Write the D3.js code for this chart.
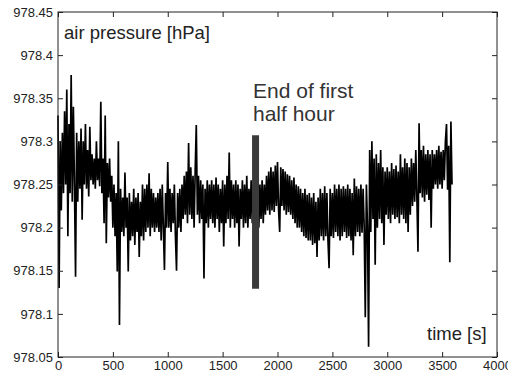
<!DOCTYPE html>
<html>
<head>
<meta charset="utf-8">
<script src="https://cdn.jsdelivr.net/npm/d3@7"></script>
<style>
  html, body { margin: 0; padding: 0; background: #fff; }
  svg { display: block; }
  text { font-family: Arial, "Liberation Sans", sans-serif; }
</style>
</head>
<body>
<svg id="chart" width="508" height="376"></svg>
<script>
// ---- data ----
const xTicks = [0, 500, 1000, 1500, 2000, 2500, 3000, 3500, 4000];
const yTicks = [978.05, 978.1, 978.15, 978.2, 978.25, 978.3, 978.35, 978.4, 978.45];
const yTickLabels = ["978.05", "978.1", "978.15", "978.2", "978.25", "978.3", "978.35", "978.4", "978.45"];
const sampleStep = 10; // seconds between samples
const pressure = [
978.330,978.130,978.300,978.220,978.310,978.240,978.335,978.250,978.360,978.190,
978.320,978.240,978.377,978.230,978.340,978.250,978.143,978.310,978.230,978.300,
978.245,978.315,978.209,978.300,978.250,978.320,978.245,978.290,978.236,978.317,
978.255,978.285,978.250,978.280,978.245,978.300,978.255,978.280,978.248,978.346,
978.240,978.280,978.205,978.330,978.182,978.275,978.235,978.280,978.230,978.260,
978.200,978.250,978.190,978.240,978.149,978.300,978.087,978.245,978.195,978.235,
978.190,978.264,978.200,978.235,978.149,978.240,978.185,978.230,978.190,978.245,
978.180,978.235,978.195,978.240,978.166,978.230,978.190,978.250,978.185,978.245,
978.195,978.250,978.200,978.263,978.190,978.245,978.200,978.240,978.195,978.235,
978.200,978.240,978.195,978.245,978.185,978.250,978.200,978.151,978.240,978.200,
978.276,978.200,978.245,978.195,978.240,978.205,978.250,978.190,978.150,978.240,
978.200,978.245,978.195,978.250,978.210,978.260,978.215,978.265,978.205,978.298,
978.215,978.270,978.210,978.260,978.200,978.265,978.319,978.215,978.260,978.205,
978.255,978.210,978.250,978.141,978.245,978.205,978.255,978.200,978.250,978.210,
978.255,978.205,978.250,978.200,978.258,978.210,978.250,978.195,978.245,978.205,
978.255,978.178,978.250,978.205,978.260,978.210,978.287,978.200,978.255,978.210,
978.250,978.200,978.255,978.205,978.250,978.178,978.245,978.210,978.255,978.200,
978.250,978.205,978.260,978.200,978.245,978.210,978.255,978.205,978.250,978.215,
978.245,978.205,978.255,978.200,978.250,978.210,978.255,978.205,978.250,978.215,
978.260,978.220,978.265,978.215,978.270,978.220,978.265,978.218,978.272,978.225,
978.276,978.220,978.195,978.270,978.225,978.268,978.220,978.265,978.215,978.262,
978.218,978.260,978.215,978.255,978.210,978.258,978.205,978.250,978.200,978.248,
978.200,978.245,978.195,978.240,978.190,978.245,978.188,978.238,978.185,978.240,
978.185,978.235,978.180,978.240,978.182,978.230,978.166,978.235,978.185,978.245,
978.190,978.240,978.185,978.248,978.190,978.240,978.185,978.153,978.245,978.190,
978.240,978.188,978.250,978.195,978.245,978.190,978.250,978.185,978.245,978.190,
978.248,978.195,978.245,978.188,978.250,978.190,978.245,978.185,978.240,978.168,
978.257,978.190,978.248,978.195,978.245,978.190,978.250,978.194,978.245,978.200,
978.096,978.250,978.200,978.062,978.290,978.195,978.300,978.210,978.280,978.157,
978.285,978.200,978.275,978.210,978.290,978.205,978.270,978.180,978.265,978.215,
978.270,978.210,978.265,978.205,978.275,978.215,978.268,978.210,978.272,978.212,
978.265,978.205,978.285,978.215,978.270,978.210,978.280,978.205,978.275,978.195,
978.270,978.215,978.280,978.225,978.275,978.230,978.290,978.235,978.172,978.321,
978.240,978.290,978.235,978.295,978.230,978.285,978.238,978.290,978.232,978.285,
978.200,978.290,978.245,978.285,978.250,978.290,978.245,978.295,978.250,978.288,
978.245,978.290,978.255,978.300,978.320,978.244,978.295,978.160,978.323,978.250
];
const markerTime = 1800;
const markerRange = [978.129, 978.307];
const labels = {
  yTitle: "air pressure [hPa]",
  xTitle: "time [s]",
  note: ["End of first", "half hour"]
};

// ---- layout ----
const svg = d3.select("#chart");
const M = { left: 58, right: 497, top: 12, bottom: 357 };
const x = d3.scaleLinear().domain([0, 4000]).range([M.left, M.right]);
const y = d3.scaleLinear().domain([978.05, 978.45]).range([M.bottom, M.top]);

// series
const line = d3.line().x((d, i) => x(i * sampleStep)).y(d => y(d));
svg.append("path")
  .datum(pressure)
  .attr("d", line)
  .attr("fill", "none")
  .attr("stroke", "#000")
  .attr("stroke-width", 1.7)
  .attr("stroke-linejoin", "miter")
  .attr("stroke-miterlimit", 2);

// marker bar
svg.append("line")
  .attr("x1", x(markerTime)).attr("x2", x(markerTime))
  .attr("y1", y(markerRange[0])).attr("y2", y(markerRange[1]))
  .attr("stroke", "#3a3a3a").attr("stroke-width", 7);

// axes
const tickFont = g => g.selectAll("text")
  .attr("font-size", 13).attr("fill", "#222")
  .attr("font-family", "Arial, 'Liberation Sans', sans-serif");

const xAxis = svg.append("g").attr("transform", `translate(0,${M.bottom})`)
  .call(d3.axisBottom(x).tickValues(xTicks).tickFormat(d3.format("d"))
    .tickSizeInner(-5).tickSizeOuter(0).tickPadding(4));
xAxis.call(tickFont);
svg.append("g").attr("transform", `translate(0,${M.top})`)
  .call(d3.axisTop(x).tickValues(xTicks).tickFormat("").tickSizeInner(-5).tickSizeOuter(0));

const yAxis = svg.append("g").attr("transform", `translate(${M.left},0)`)
  .call(d3.axisLeft(y).tickValues(yTicks).tickFormat((d, i) => yTickLabels[i])
    .tickSizeInner(-5).tickSizeOuter(0).tickPadding(5));
yAxis.call(tickFont);
svg.append("g").attr("transform", `translate(${M.right},0)`)
  .call(d3.axisRight(y).tickValues(yTicks).tickFormat("").tickSizeInner(-5).tickSizeOuter(0));

svg.selectAll(".domain").remove();
svg.selectAll(".tick line").attr("stroke", "#222");

// frame
svg.append("rect")
  .attr("x", M.left).attr("y", M.top)
  .attr("width", M.right - M.left).attr("height", M.bottom - M.top)
  .attr("fill", "none").attr("stroke", "#222").attr("stroke-width", 1);

// texts
svg.append("text").attr("x", 64).attr("y", 39)
  .attr("font-size", 18.5).attr("fill", "#222").text(labels.yTitle);
svg.append("text").attr("x", 427).attr("y", 340)
  .attr("font-size", 18.5).attr("fill", "#222").text(labels.xTitle);
const note = svg.append("text").attr("x", 253).attr("y", 98)
  .attr("font-size", 21).attr("fill", "#333");
labels.note.forEach((t, i) => note.append("tspan").attr("x", 253).attr("y", 98 + i * 23).text(t));
</script>
</body>
</html>
